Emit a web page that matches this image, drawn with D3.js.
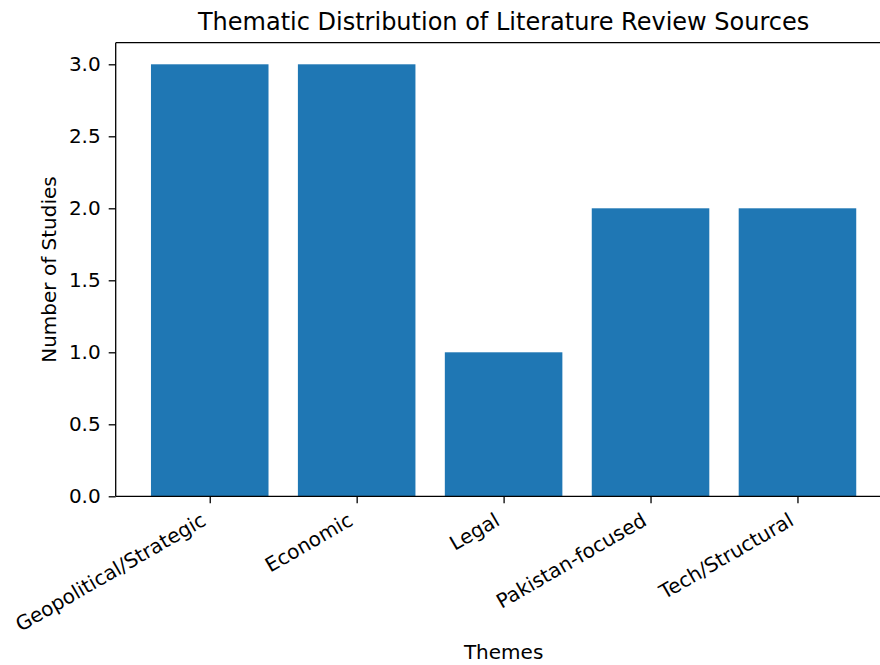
<!DOCTYPE html>
<html>
<head>
<meta charset="utf-8">
<script src="https://cdn.jsdelivr.net/npm/d3@7"></script>
<style>
  html, body { margin: 0; padding: 0; background: #ffffff; }
  svg { display: block; }
  text { font-family: "DejaVu Sans", sans-serif; fill: #000; }
</style>
</head>
<body>
<svg id="chart" width="880" height="665"></svg>
<script>
const categories = ["Geopolitical/Strategic", "Economic", "Legal", "Pakistan-focused", "Tech/Structural"];
const values = [3, 3, 1, 2, 2];
const yTicks = [0, 0.5, 1.0, 1.5, 2.0, 2.5, 3.0];
const title = "Thematic Distribution of Literature Review Sources";
const xLabel = "Themes";
const yLabel = "Number of Studies";

const W = 880, H = 665;
const plot = { left: 115.7, right: 891.5, top: 42.7, bottom: 496.3 };

const svg = d3.select("#chart");

const x = d3.scaleLinear().domain([-0.64, 4.64]).range([plot.left, plot.right]);
const y = d3.scaleLinear().domain([0, 3.15]).range([plot.bottom, plot.top]);
const barW = 0.8;

// bars
svg.append("g").selectAll("rect")
  .data(values)
  .join("rect")
  .attr("x", (d, i) => x(i - barW / 2))
  .attr("width", (d, i) => x(i + barW / 2) - x(i - barW / 2))
  .attr("y", d => y(d))
  .attr("height", d => y(0) - y(d))
  .attr("fill", "#1f77b4");

// y axis
const yAxis = d3.axisLeft(y).tickValues(yTicks).tickFormat(d3.format(".1f")).tickSize(7).tickPadding(8);
const gy = svg.append("g").attr("transform", `translate(${plot.left},0)`).call(yAxis);
gy.select(".domain").remove();
gy.selectAll(".tick line").attr("stroke", "#000").attr("stroke-width", 1.3);
gy.selectAll(".tick text").attr("font-size", 20).attr("font-family", "DejaVu Sans").attr("fill", "#000");

// x axis
const xAxis = d3.axisBottom(x).tickValues(d3.range(categories.length)).tickFormat(i => categories[i]).tickSize(7).tickPadding(6);
const gx = svg.append("g").attr("transform", `translate(0,${plot.bottom})`).call(xAxis);
gx.select(".domain").remove();
gx.selectAll(".tick line").attr("stroke", "#000").attr("stroke-width", 1.3);
gx.selectAll(".tick text")
  .attr("font-size", 20).attr("font-family", "DejaVu Sans").attr("fill", "#000")
  .attr("text-anchor", "end")
  .attr("dy", null)
  .attr("y", 0)
  .attr("transform", "translate(-3,28) rotate(-30)");

// spines
const spine = svg.append("g").attr("stroke", "#000").attr("stroke-width", 1.3).attr("fill", "none");
spine.append("line").attr("x1", plot.left).attr("x2", plot.left).attr("y1", plot.top).attr("y2", plot.bottom);
spine.append("line").attr("x1", plot.left).attr("x2", plot.right).attr("y1", plot.bottom).attr("y2", plot.bottom);
spine.append("line").attr("x1", plot.left).attr("x2", plot.right).attr("y1", plot.top).attr("y2", plot.top);
spine.append("line").attr("x1", plot.right).attr("x2", plot.right).attr("y1", plot.top).attr("y2", plot.bottom);

// title
svg.append("text")
  .attr("x", (plot.left + plot.right) / 2)
  .attr("y", 29.5)
  .attr("text-anchor", "middle")
  .attr("font-size", 24)
  .text(title);

// x label
svg.append("text")
  .attr("x", (plot.left + plot.right) / 2)
  .attr("y", 659)
  .attr("text-anchor", "middle")
  .attr("font-size", 20)
  .text(xLabel);

// y label
svg.append("text")
  .attr("transform", `translate(56,${(plot.top + plot.bottom) / 2}) rotate(-90)`)
  .attr("text-anchor", "middle")
  .attr("font-size", 20)
  .text(yLabel);
</script>
</body>
</html>
